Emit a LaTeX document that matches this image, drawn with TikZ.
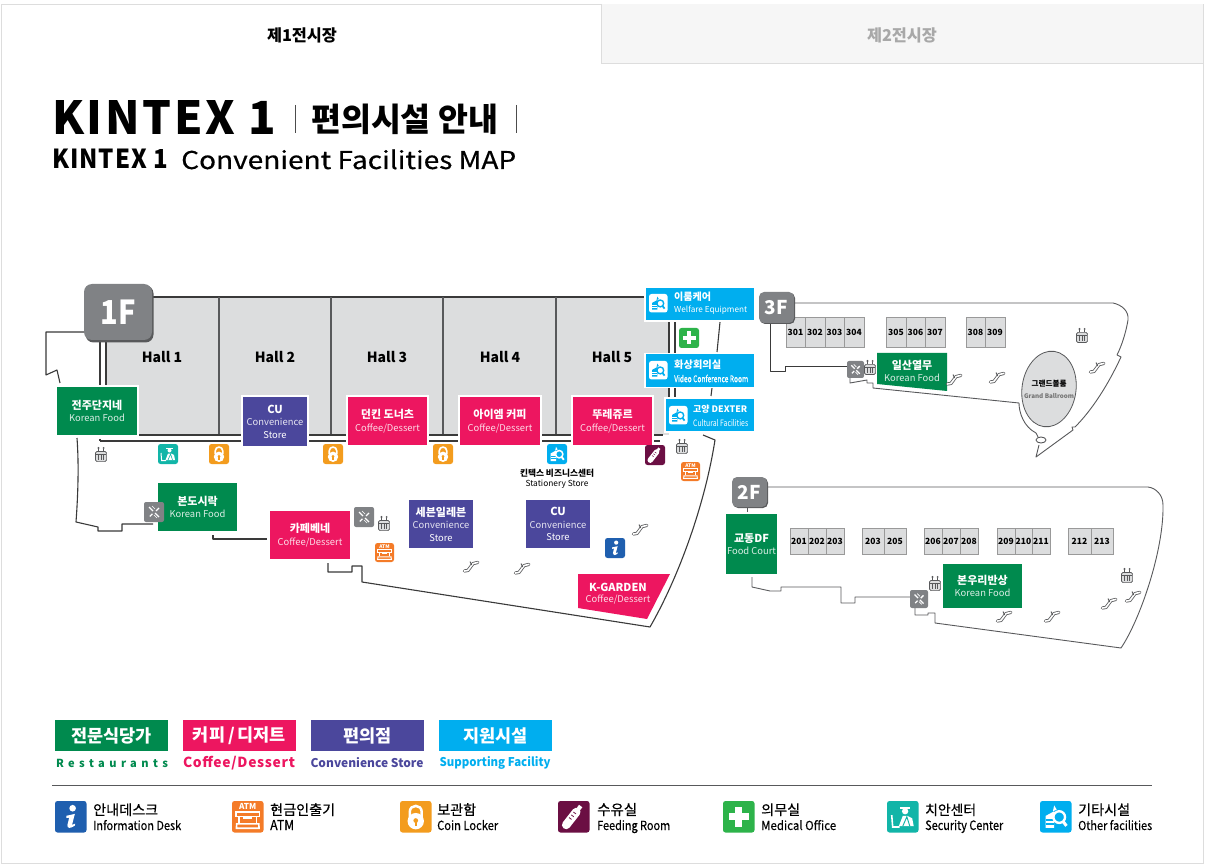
\documentclass[tikz,border=0pt]{standalone}
\usepackage{fontspec}
\usepackage{graphicx}
\setmainfont{Noto Sans CJK KR}
\newfontfamily\medw[FakeBold=0.35]{Noto Sans CJK KR}
\definecolor{cgreen}{HTML}{008A4E}
\definecolor{cpink}{HTML}{ED1660}
\definecolor{cpurple}{HTML}{4B479C}
\definecolor{cblue}{HTML}{00AEEF}
\definecolor{chall}{HTML}{DCDDDE}
\definecolor{cwall}{HTML}{3A3A3A}
\definecolor{cwalltwo}{HTML}{58595B}
\definecolor{cbadge}{HTML}{808285}
\definecolor{cbadged}{HTML}{58595B}
\definecolor{cinfo}{HTML}{1F5FAF}
\definecolor{catm}{HTML}{F47B28}
\definecolor{clock}{HTML}{F39C1E}
\definecolor{cfeed}{HTML}{6B0F43}
\definecolor{cmed}{HTML}{2DB34A}
\definecolor{csec}{HTML}{12B5A8}
\definecolor{cframe}{HTML}{DDDDDD}
\definecolor{ctab}{HTML}{F6F6F6}
\definecolor{ctabt}{HTML}{A8A8A8}
\newcommand\fz[1]{\fontsize{#1}{#1}\selectfont}
\newcommand\fitw[2]{\resizebox{#1}{!}{#2}}
\tikzset{
  tx/.style={inner sep=0pt,outer sep=0pt,font=\fz{#1}},
  storebox/.style={draw=white,line width=1.6pt,text=white,inner sep=0pt,align=center,font=\fontsize{9.4}{12.5}\selectfont},
  roombox/.style={draw=#1,fill=chall,line width=.8pt,inner sep=0pt,font=\fz{8.5}\bfseries},
  roombox/.default={black!40},
  wall/.style={draw=cwall,line width=1.1pt,line join=round},
  walltwo/.style={draw=cwalltwo,line width=.9pt,line join=round},
  badgebox/.style={fill=cbadge,rounded corners=#1,text=white,inner sep=0pt},
  legbox/.style={inner sep=0pt,text=white,font=\fz{17.5}\bfseries,minimum height=31pt,minimum width=113pt},
  pics/lockicon/.style={code={
    \fill[clock,rounded corners=2.5pt] (0,0) rectangle (20,20);
    \draw[white,line width=1.6*\icw pt] (6.2,10) -- (6.2,7) .. controls (6.2,1.8) and (13.8,1.8) .. (13.8,7) -- (13.8,10);
    \fill[white] (10,12.8) circle (5.2);
    \fill[clock] (10,12.4) circle (1.5);
    \fill[clock] (9.4,12.6) rectangle (10.6,15.6);
  }},
  pics/medicon/.style={code={
    \fill[cmed,rounded corners=2.5pt] (0,0) rectangle (20,20);
    \fill[white] (7.8,3.5) rectangle (12.2,16.5);
    \fill[white] (3.5,7.8) rectangle (16.5,12.2);
  }},
  pics/infoicon/.style={code={
    \fill[cinfo,rounded corners=2.5pt] (0,0) rectangle (20,20);
    \fill[white] (11.2,4.6) circle (2.1);
    \fill[white] (7.2,9.4) -- (12.6,8.2) -- (10.8,15.2) -- (12.8,14.4) -- (12.6,15.6) .. controls (10,17.6) and (7.4,17.6) .. (7.9,15.2) -- (9,10.6) -- (7.2,10.8) -- cycle;
  }},
  pics/atmicon/.style={code={
    \fill[catm,rounded corners=2.5pt] (0,0) rectangle (20,20);
    \node[inner sep=0pt,text=white] (atmlabel) at (10,3.6) {\scalebox{\icw}{\fz{5.2}\bfseries ATM}};
    \draw[white,line width=.9*\icw pt] (2.5,7) rectangle (17.5,10);
    \draw[white,line width=1*\icw pt] (4.5,10) -- (4.5,14) (15.5,10) -- (15.5,14);
    \fill[white] (7,10) rectangle (13,11.5);
    \draw[white,line width=1*\icw pt] (3,14.5) -- (2.8,17.3) -- (17.2,17.3) -- (17,14.5) -- cycle;
  }},
  pics/feedicon/.style={code={
    \fill[cfeed,rounded corners=2.5pt] (0,0) rectangle (20,20);
    \draw[white,line width=5.4*\icw pt,line cap=round] (5.2,15.2) -- (11.6,7);
    \draw[white,line width=2.6*\icw pt] (11.6,7) -- (14.4,3.2);
    \draw[cfeed,line width=.5*\icw pt] (7,10.5) -- (8.6,11.7) (8.4,8.8) -- (10,10) (9.8,7) -- (11.4,8.2);
  }},
  pics/secicon/.style={code={
    \fill[csec,rounded corners=2.5pt] (0,0) rectangle (20,20);
    \fill[white] (11.5,6.5) circle (2);
    \fill[white] (8.4,3.8) rectangle (14.6,4.9);
    \fill[white] (7.5,16) -- (10,9.5) -- (13,9.5) -- (16,11) -- (17,16) -- cycle;
    \draw[white,line width=1*\icw pt] (3,9) -- (3.6,16.5) -- (8,16.5);
    \draw[csec,line width=.6*\icw pt] (10,16) -- (12.6,10) -- (14.5,16);
  }},
  pics/othericon/.style 2 args={code={
    \fill[#1,rounded corners=2.5pt] (0,0) rectangle (20,20);
    \fill[#2] (3.5,9.5) -- (9,6.5) -- (9,17) -- (3.5,17) -- cycle;
    \fill[#2] (9,2.8) -- (10.6,5.5) -- (8.2,6.5) -- cycle;
    \draw[#1,line width=.8*\icw pt] (3.5,12) -- (9,12) (3.5,14.6) -- (9,14.6);
    \draw[#2,line width=1.5*\icw pt] (12.2,10.2) circle (3.7);
    \draw[#2,line width=1.9*\icw pt] (14.7,13) -- (16.8,15.8);
  }},
  pics/stairicon/.style={code={
    \fill[cbadge,rounded corners=2pt] (0,0) rectangle (20,20);
    \draw[white,line width=1.3pt] (5,5) -- (9,9) (11,11) -- (15,15) (15,6) -- (12,9) (8.4,11.8) -- (5.8,14.5);
    \draw[white,line width=.7pt] (8,4) -- (11,7) (10,13) -- (13,16);
  }},
  pics/elevicon/.style={code={
    \fill[cbadged] (-2.6,-6) circle (1.1) (2.6,-6) circle (1.1);
    \draw[cbadged,line width=.5pt] (-2.6,-4.8) -- (-2.6,-3.4) (2.6,-4.8) -- (2.6,-3.4);
    \draw[cbadged,fill=chall,line width=.7pt,rounded corners=1.5pt] (-5.6,-2.6) rectangle (5.6,7.6);
    \draw[cbadged,line width=.9pt] (-5.4,0) -- (5.4,0);
    \draw[cbadged,line width=.7pt] (-2.8,1) -- (-2.8,6) (0,1) -- (0,6) (2.8,1) -- (2.8,6);
  }},
  pics/escicon/.style={code={
    \draw[cwalltwo,line width=3.2pt,line join=round,line cap=round] (-6.6,5) -- (-3,4.4) -- (2,-2.4) -- (6.8,-3.6);
    \draw[white,line width=1.6pt,line join=round,line cap=round] (-6.6,5) -- (-3,4.4) -- (2,-2.4) -- (6.8,-3.6);
    \draw[cwalltwo,line width=.9pt] (-1,-4.5) -- (.6,-1);
  }},
}
\newcommand\ico[4]{\pgfmathsetmacro\icw{#4/20}\pic[scale=\icw] at (#2,#3) {#1};}
\newcommand\store[8]{%
  \pgfmathsetmacro\sw{#4-#2}\pgfmathsetmacro\sh{#5-#3}%
  \pgfmathsetmacro\scx{(#2+#4)/2}\pgfmathsetmacro\scy{(#3+#5)/2}%
  \node[storebox,fill=#6,minimum width=\sw pt,minimum height=\sh pt] (#1) at (\scx,\scy)
    {{\fontsize{11}{12.5}\selectfont\bfseries #7}\\\color{white!85!#6}#8};}
\newcommand\room[5]{%
  \pgfmathsetmacro\sw{#3-#2}\pgfmathsetmacro\sh{#5-#4}%
  \pgfmathsetmacro\scx{(#2+#3)/2}\pgfmathsetmacro\scy{(#4+#5)/2}%
  \node[roombox,minimum width=\sw pt,minimum height=\sh pt] (room#2) at (\scx,\scy) {#1};}
\newcommand\legitem[6]{%
  \node[anchor=base west,inner sep=0pt] (#1a) at (#2,815) {\fitw{#3pt}{\fz{15}\medw #4}};
  \node[anchor=base west,inner sep=0pt] (#1b) at (#2,830) {\resizebox{#5pt}{10pt}{\fz{12}\medw #6}};}
\begin{document}
\begin{tikzpicture}[x=1pt,y=-1pt]
\useasboundingbox (0,0) rectangle (1205,866);
\fill[white] (0,0) rectangle (1205,866);
% frame and tabs
\draw[cframe,line width=.9pt] (1,4) rectangle (1203,863);
\fill[ctab] (601,4.5) rectangle (1202.5,63);
\draw[cframe,line width=.9pt] (601,4) -- (601,63) -- (1203,63);
\node[inner sep=0pt] (tabone) at (302,35) {\fitw{70pt}{\fz{16}\bfseries 제1전시장}};
\node[inner sep=0pt,text=ctabt] (tabtwo) at (902,35) {\fitw{70pt}{\fz{16}\bfseries 제2전시장}};
% title
\node[anchor=base west,inner sep=0pt] (titlea) at (52,135) {\resizebox{224pt}{34pt}{\bfseries\addfontfeature{LetterSpace=6}KINTEX 1}};
\draw[black!70,line width=1pt] (295,105) -- (295,133) (516,105) -- (516,133);
\node[anchor=base west,inner sep=0pt] (titleb) at (311,132) {\fitw{187pt}{\fz{34}\bfseries 편의시설 안내}};
\node[anchor=base west,inner sep=0pt] (titlec) at (52,169) {\resizebox{116pt}{19.5pt}{\bfseries\addfontfeature{LetterSpace=4}KINTEX 1}};
\node[anchor=base west,inner sep=0pt] (titled) at (181,169) {\resizebox{335pt}{19.5pt}{\medw Convenient Facilities MAP}};
% 1F halls
\fill[chall] (106,297) rectangle (669,435);
\draw[wall,line width=1.4pt] (152,297) -- (645,297);
\draw[wall,draw=cbadged,line width=1.1pt] (219,297) -- (219,435) (331,297) -- (331,435) (443,297) -- (443,435) (556,297) -- (556,435);
\draw[wall] (106,435) -- (656,435) (100,441) -- (660,441) (100,439) -- (100,441);
\draw[wall] (656,435) -- (663,435);
\draw[wall] (100,341) -- (100,386) (106,341) -- (106,386);
\draw[wall] (669,321) -- (669,354) (675,321) -- (675,354) (669,387) -- (669,398) (675,387) -- (675,398);
\draw[wall] (720,322) -- (717,352) (712,388) -- (711,396);
% 1F outline
\draw[wall] (84,332) -- (46,332) -- (46,375) -- (57,370) -- (60,383);
\draw[wall] (77,438) .. controls (79,465) and (78,495) .. (76,522) -- (98,527) -- (98,531) -- (122,531) -- (122,524) -- (153,524);
\draw[wall] (213,535) -- (213,539) -- (267,539);
\draw[wall] (328,563) -- (328,572) -- (352,572) -- (352,566) -- (362,566) -- (362,582) -- (650,627) .. controls (676,582) and (704,510) .. (715,440) -- (703,435);
% Halls
\node[tx=14,font=\fz{14}\bfseries] (hallone) at (162,357) {Hall 1};
\node[tx=14,font=\fz{14}\bfseries] (halltwo) at (275,357) {Hall 2};
\node[tx=14,font=\fz{14}\bfseries] (hallthree) at (387,357) {Hall 3};
\node[tx=14,font=\fz{14}\bfseries] (hallfour) at (500,357) {Hall 4};
\node[tx=14,font=\fz{14}\bfseries] (hallfive) at (612,357) {Hall 5};
% 1F stores
\store{jeonju}{56}{386}{138}{436}{cgreen}{전주단지네}{Korean Food}
\store{cua}{242}{396}{308}{447}{cpurple}{CU}{Convenience\\Store}
\store{dunkin}{347}{396}{428}{446}{cpink}{던킨 도너츠}{Coffee/Dessert}
\store{iam}{459}{396}{541}{446}{cpink}{아이엠 커피}{Coffee/Dessert}
\store{tous}{572}{396}{653}{446}{cpink}{뚜레쥬르}{Coffee/Dessert}
\store{bondo}{157}{482}{238}{532}{cgreen}{본도시락}{Korean Food}
\store{bene}{269}{510}{351}{560}{cpink}{카페베네}{Coffee/Dessert}
\store{seven}{408}{499}{474}{549}{cpurple}{세븐일레븐}{Convenience\\Store}
\store{cub}{525}{499}{591}{549}{cpurple}{CU}{Convenience\\Store}
\fill[cpink] (578,574) -- (670,574) -- (647,619) -- (578,608) -- cycle;
\node[tx=11,text=white,font=\fz{11}\bfseries] (kgarden) at (618,587) {K-GARDEN};
\node[tx=9,text=white!85!cpink,font=\fz{9.4}] (kgardens) at (618,600) {Coffee/Dessert};
% support boxes
\node[fill=cblue,draw=white,line width=1.5pt,minimum width=110pt,minimum height=34pt,inner sep=0pt] (welfare) at (700,304) {};
\node[fill=cblue,draw=white,line width=1.5pt,minimum width=110pt,minimum height=34pt,inner sep=0pt] (video) at (700,370.5) {};
\node[fill=cblue,draw=white,line width=1.5pt,minimum width=90pt,minimum height=34pt,inner sep=0pt] (dexter) at (710,415) {};
\ico{othericon={white}{cblue}}{649}{294}{18.5}
\ico{othericon={white}{cblue}}{649}{361}{18.5}
\ico{othericon={white}{cblue}}{669}{406}{18.5}
\node[inner sep=0pt,anchor=west,text=white] (welfarea) at (674,297) {\fitw{37pt}{\fz{10}\bfseries 이룸케어}};
\node[inner sep=0pt,anchor=west,text=white] (welfareb) at (674,310.5) {\fitw{73pt}{\fz{9}Welfare Equipment}};
\node[inner sep=0pt,anchor=west,text=white] (videoa) at (674,365) {\fitw{47pt}{\fz{10}\bfseries 화상회의실}};
\node[inner sep=0pt,anchor=west,text=white] (videob) at (674,378.5) {\resizebox{74pt}{7.5pt}{\fz{9}\medw Video Conference Room}};
\node[inner sep=0pt,anchor=west,text=white] (dextera) at (693,409) {\fitw{54pt}{\fz{10}\bfseries 고양 DEXTER}};
\node[inner sep=0pt,anchor=west,text=white] (dexterb) at (693,423) {\resizebox{55pt}{7pt}{\fz{9}Cultural Facilities}};
% 1F icons
\pic at (101,454) {elevicon};
\pic at (682,446) {elevicon};
\pic at (384,523) {elevicon};
\ico{secicon}{158}{444}{20}
\ico{lockicon}{209}{444}{20}
\ico{lockicon}{323}{444}{20}
\ico{lockicon}{433}{444}{20}
\ico{othericon={cblue}{white}}{547}{444}{20}
\ico{feedicon}{645}{445}{20}
\ico{atmicon}{681}{462}{19}
\ico{atmicon}{375}{543}{19}
\ico{medicon}{679}{328}{20}
\ico{infoicon}{605}{538}{20}
\pic at (144,502) {stairicon};
\pic at (354,507) {stairicon};
\pic at (471,566) {escicon};
\pic at (522,568) {escicon};
\pic at (640,529) {escicon};
\node[inner sep=0pt,text=black] (biza) at (557,473) {\fitw{74pt}{\fz{9}\bfseries 킨텍스 비즈니스센터}};
\node[tx=8.5] (bizb) at (557,484.5) {\fitw{63pt}{\fz{9}Stationery Store}};
% 1F badge
\fill[cbadged,rounded corners=8pt] (85.5,285.5) rectangle (153.5,342.5);
\node[badgebox=8pt,minimum width=68pt,minimum height=56pt,font=\fz{33}\bfseries] (fone) at (118,312) {\scalebox{.88}[1]{1F}};
% 3F
\draw[walltwo] (794,303) -- (1113,303) .. controls (1122,305) and (1129,311) .. (1128,320) .. controls (1126,332) and (1122,345) .. (1117,355) -- (1121,357) .. controls (1108,385) and (1092,410) .. (1075,427) -- (1072,427) -- (1073,430) -- (1036,457) -- (1039,445);
\draw[walltwo] (1036,433) .. controls (1024,427) and (1019,413) .. (1019,403) -- (873,388) -- (873,383) -- (867,383) -- (867,380) -- (850,383) -- (850,378);
\draw[walltwo] (1036,433) -- (1038,437);
\draw[walltwo] (1041,440) ellipse [x radius=5,y radius=3];
\draw[walltwo,cwall] (770,323) -- (770,371) -- (785,371) -- (785,366) -- (847,366);
\fill[cgreen] (877,353) -- (947,353) -- (947,391) -- (877,384) -- cycle;
\node[tx=11,text=white,font=\fz{11}\bfseries] (ilsan) at (912,365) {일산열무};
\node[tx=9,text=white!85!cgreen,font=\fz{9.4}] (ilsanb) at (912,378) {Korean Food};
\draw[draw=cbadged,fill=chall,line width=.8pt,rotate around={-8:(1049,389)}] (1049,389) ellipse [x radius=27,y radius=38];
\node[inner sep=0pt] (ballroom) at (1049,384) {\fitw{35pt}{\fz{7}\bfseries 그랜드볼룸}};
\node[inner sep=0pt,text=black!55] (ballroomb) at (1049,396) {\fitw{50pt}{\fz{7}\bfseries Grand Ballroom}};
\room{301}{786}{805}{317}{347}\room{302}{805}{825}{317}{347}\room{303}{825}{844}{317}{347}\room{304}{844}{864}{317}{347}
\room{305}{886}{906}{317}{347}\room{306}{906}{925}{317}{347}\room{307}{925}{945}{317}{347}
\room{308}{966}{985}{317}{347}\room{309}{985}{1005}{317}{347}
\ico{stairicon}{847}{361}{17}
\pic at (870,367) {elevicon};
\pic at (1082,335) {elevicon};
\pic at (954,379) {escicon};
\pic at (997,377) {escicon};
\pic at (1097,367) {escicon};
\fill[cbadged,rounded corners=5pt] (760,293) rectangle (795,324);
\node[badgebox=5pt,minimum width=35pt,minimum height=31pt,font=\fz{19}\bfseries] (fthree) at (776.5,307.5) {3F};
% 2F
\draw[walltwo] (767,487) -- (1148,487) .. controls (1156,488) and (1163,495) .. (1163,505) .. controls (1164,550) and (1140,620) .. (1121,648) -- (935,623) -- (935,613) -- (928,613) -- (928,615) -- (915,615) -- (915,608);
\draw[walltwo] (752,577) -- (752,587) -- (770,591) -- (781,591) -- (781,587) -- (841,587) -- (841,603) -- (855,603) -- (855,597) -- (910,597);
\draw[walltwo] (747,507) -- (747,513);
\store{gyodong}{725}{513}{778}{575}{cgreen}{교동DF}{Food Court}
\store{bonwoori}{942}{563}{1023}{609}{cgreen}{본우리반상}{Korean Food}
\room{201}{790}{808}{528}{554}\room{202}{808}{826}{528}{554}\room{203}{826}{844}{528}{554}
\room{203}{862}{884}{528}{554}\room{205}{884}{906}{528}{554}
\room{206}{924}{942}{528}{554}\room{207}{942}{960}{528}{554}\room{208}{960}{978}{528}{554}
\room{209}{997}{1015}{528}{554}\room{210}{1015}{1032}{528}{554}\room{211}{1032}{1050}{528}{554}
\room{212}{1068}{1091}{528}{554}\room{213}{1091}{1113}{528}{554}
\ico{stairicon}{910}{590}{18}
\pic at (935,583) {elevicon};
\pic at (1127,575) {elevicon};
\pic at (1004,616) {escicon};
\pic at (1052,616) {escicon};
\pic at (1109,603) {escicon};
\pic at (1133,596) {escicon};
\fill[cbadged,rounded corners=5pt] (733,478) rectangle (768,508);
\node[badgebox=5pt,minimum width=35pt,minimum height=30pt,font=\fz{19}\bfseries] (ftwo) at (749.5,492) {2F};
% legend
\node[legbox,fill=cgreen] (lega) at (111.5,735.5) {전문식당가};
\node[legbox,fill=cpink] (legb) at (239.5,735.5) {커피\,/\,디저트};
\node[legbox,fill=cpurple] (legc) at (367.5,735.5) {편의점};
\node[legbox,fill=cblue] (legd) at (495.5,735.5) {지원시설};
\node[inner sep=0pt,text=cgreen] (subla) at (112,763) {\fitw{112pt}{\fz{12}\bfseries\addfontfeature{LetterSpace=40}Restaurants}};
\node[inner sep=0pt,text=cpink] (sublb) at (239,763) {\fitw{112pt}{\fz{12}\bfseries\addfontfeature{LetterSpace=5}Coffee/Dessert}};
\node[inner sep=0pt,text=cpurple] (sublc) at (367,763) {\resizebox{113pt}{10pt}{\fz{12}\bfseries Convenience Store}};
\node[inner sep=0pt,text=cblue] (subld) at (495,763) {\resizebox{111pt}{10pt}{\fz{12}\bfseries Supporting Facility}};
\draw[cbadged,line width=.9pt] (52,785) -- (1152,785);
\ico{infoicon}{55}{801}{31.5}
\ico{atmicon}{232}{801}{31.5}
\ico{lockicon}{400}{801}{31.5}
\ico{feedicon}{558}{801}{31.5}
\ico{medicon}{723}{801}{31.5}
\ico{secicon}{887}{801}{31.5}
\ico{othericon={cblue}{white}}{1040}{801}{31.5}
\legitem{info}{93}{65}{안내데스크}{88}{Information Desk}
\legitem{atm}{270}{65}{현금인출기}{24}{ATM}
\legitem{coin}{437}{39}{보관함}{61}{Coin Locker}
\legitem{feed}{597}{40}{수유실}{73}{Feeding Room}
\legitem{med}{761}{39}{의무실}{75}{Medical Office}
\legitem{sec}{925}{51}{치안센터}{78}{Security Center}
\legitem{oth}{1078}{52}{기타시설}{74}{Other facilities}
\end{tikzpicture}
\end{document}
